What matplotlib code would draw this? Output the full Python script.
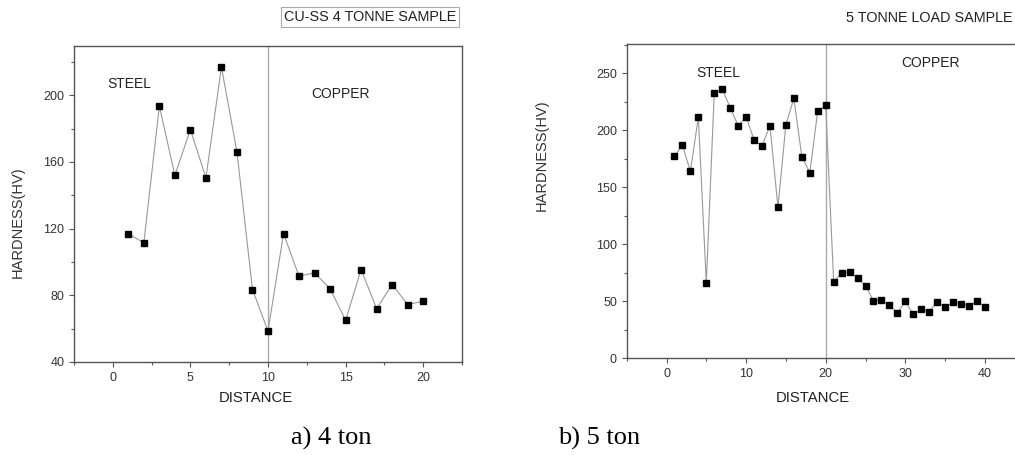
import matplotlib
matplotlib.use("Agg")
import matplotlib.pyplot as plt
from matplotlib.ticker import MultipleLocator

# ---- data ----
dist_4t = list(range(1, 21))
hard_4t = [117, 111.5, 193.5, 152, 179.5, 150.5, 217, 166, 83.5, 58.5,
           117, 91.5, 93.5, 84, 65, 95.5, 72, 86.5, 74.5, 76.5]
dist_5t = list(range(1, 41))
hard_5t = [177.5, 187, 164, 211.5, 66, 233, 236, 220, 204, 212,
           191.5, 186.5, 204, 132.5, 205, 228, 177, 163, 217, 222,
           67, 75, 76, 70.5, 63.5, 50.5, 51.5, 46.5, 40, 50,
           38.5, 43, 41, 49.5, 45, 49, 48, 45.5, 50.5, 45]
interface_4t = 10
interface_5t = 20
title_4t = "CU-SS 4 TONNE SAMPLE"
title_5t = "5 TONNE LOAD SAMPLE"
caption_4t = "a) 4 ton"
caption_5t = "b) 5 ton"

plt.rcParams['font.family'] = ['Liberation Sans', 'DejaVu Sans']

W, H = 1015, 455
fig = plt.figure(figsize=(W / 100, H / 100), dpi=100)

def px_axes(l, t, r, b):
    return fig.add_axes([l / W, 1 - b / H, (r - l) / W, (b - t) / H])

spine_c = '#555555'
text_c = '#333333'

def style(ax):
    for s in ax.spines.values():
        s.set_color(spine_c)
        s.set_linewidth(1.0)
    ax.tick_params(which='both', direction='out', colors=spine_c, labelcolor=text_c,
                   labelsize=9, top=False, right=False)
    ax.tick_params(which='major', length=3.5, width=0.8)
    ax.tick_params(which='minor', length=2.5, width=0.8)

# left
ax1 = px_axes(74, 46, 462, 362)
ax1.plot(dist_4t, hard_4t, color='#999999', lw=0.8, marker='s', ms=5,
         mfc='black', mec='black', zorder=3)
ax1.axvline(interface_4t, color='#aaaaaa', lw=1.0, zorder=1)
ax1.set_xlim(-2.5, 22.5)
ax1.set_ylim(40, 229.6)
ax1.xaxis.set_major_locator(MultipleLocator(5))
ax1.xaxis.set_minor_locator(MultipleLocator(2.5))
ax1.yaxis.set_major_locator(MultipleLocator(40))
ax1.yaxis.set_minor_locator(MultipleLocator(20))
style(ax1)
ax1.text(-0.35, 207, "STEEL", fontsize=10, color='#222222', va='center', ha='left')
ax1.text(12.8, 200.5, "COPPER", fontsize=10, color='#222222', va='center', ha='left')

# right
ax2 = px_axes(626.7, 44.3, 626.7 + 398, 358.3)
ax2.plot(dist_5t, hard_5t, color='#999999', lw=0.8, marker='s', ms=4.5,
         mfc='black', mec='black', zorder=3)
ax2.axvline(interface_5t, color='#aaaaaa', lw=1.0, zorder=1)
ax2.set_xlim(-5, 45)
ax2.set_ylim(0, 275.5)
ax2.xaxis.set_major_locator(MultipleLocator(10))
ax2.xaxis.set_minor_locator(MultipleLocator(5))
ax2.yaxis.set_major_locator(MultipleLocator(50))
ax2.yaxis.set_minor_locator(MultipleLocator(25))
style(ax2)
ax2.text(3.8, 250, "STEEL", fontsize=10, color='#222222', va='center', ha='left')
ax2.text(29.5, 259, "COPPER", fontsize=10, color='#222222', va='center', ha='left')

# titles
fig.text(370 / W, 1 - 17 / H, title_4t, fontsize=10.4, color='#222222', ha='center', va='center',
         bbox=dict(boxstyle='square,pad=0.2', fc='white', ec='#aaaaaa', lw=0.8))
fig.text(1012 / W, 1 - 18 / H, title_5t, fontsize=10.4, color='#222222', ha='right', va='center')

# axis labels
fig.text(18 / W, 1 - 222 / H, "HARDNESS(HV)", rotation=90, fontsize=10.5, color='#333333',
         ha='center', va='center')
fig.text(542 / W, 1 - 155 / H, "HARDNESS(HV)", rotation=90, fontsize=10.5, color='#333333',
         ha='center', va='center')
fig.text(256 / W, 1 - 398 / H, "DISTANCE", fontsize=10.7, color='#222222', ha='center', va='center')
fig.text(812.5 / W, 1 - 398 / H, "DISTANCE", fontsize=10.7, color='#222222', ha='center', va='center')

# captions
fig.text(331 / W, 1 - 438 / H, caption_4t, fontsize=19, family='Liberation Serif',
         ha='center', va='center', color='black')
fig.text(599 / W, 1 - 438 / H, caption_5t, fontsize=19, family='Liberation Serif',
         ha='center', va='center', color='black')

fig.savefig("out.png", dpi=100)
